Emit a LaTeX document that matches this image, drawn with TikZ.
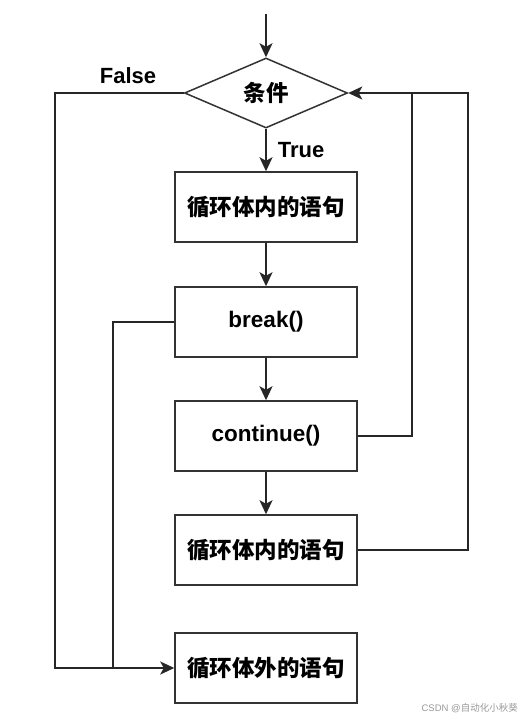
\documentclass[tikz,border=0pt]{standalone}
\usepackage{fontspec}
\setmainfont{Liberation Sans}
\newfontfamily\cjk{Noto Sans CJK SC}
\usetikzlibrary{shapes.geometric,arrows.meta}
\begin{document}
\begin{tikzpicture}[x=1pt,y=-1pt,
  box/.style={draw=black!80,line width=1.5pt,minimum width=182pt,minimum height=70pt,inner sep=0pt,font=\fontsize{22.5}{26}\selectfont\bfseries},
  dec/.style={draw=black!80,line width=1.5pt,diamond,aspect=2.33,minimum width=163pt,minimum height=70pt,inner sep=0pt,font=\fontsize{22.5}{26}\selectfont\bfseries},
  conn/.style={line width=1.7pt,draw=black!85},
  arr/.style={conn,-{Stealth[length=14pt,width=13pt,inset=3.5pt]}},
  lbl/.style={font=\fontsize{22}{26}\selectfont\bfseries,inner sep=0pt}]
\useasboundingbox (0,0) rectangle (522,720);
\fill[white] (0,0) rectangle (522,720);
\coordinate (start) at (266,14);
\node[dec] (cond) at (266,93) {\cjk 条件};
\node[box] (b1) at (266,207) {\cjk 循环体内的语句};
\node[box] (b2) at (266,322) {break()};
\node[box] (b3) at (266,436) {continue()};
\node[box] (b4) at (266,550) {\cjk 循环体内的语句};
\node[box] (b5) at (266,668) {\cjk 循环体外的语句};
\node[lbl] (tl) at (301,150) {True};
\node[lbl] (fl) at (128,76) {False};
\coordinate (fa) at (55,93);
\coordinate (fb) at (55,668);
\coordinate (ba) at (113,322);
\coordinate (bb) at (113,668);
\coordinate (ca) at (412,436);
\coordinate (cb) at (412,93);
\coordinate (da) at (468,550);
\coordinate (db) at (468,93);
\draw[arr] (start) -- (cond.north);
\draw[arr] (cond.south) -- (b1.north);
\draw[arr] (b1.south) -- (b2.north);
\draw[arr] (b2.south) -- (b3.north);
\draw[arr] (b3.south) -- (b4.north);
\draw[arr] (cond.west) -- (fa) -- (fb) -- (b5.west);
\draw[conn] (b2.west) -- (ba) -- (bb);
\draw[conn] (b3.east) -- (ca) -- (cb);
\draw[arr] (b4.east) -- (da) -- (db) -- (cond.east);
\node[font=\fontsize{9.5}{11}\selectfont,text=black!40,anchor=east,inner sep=0pt] (wm) at (518,708) {CSDN @{\cjk 自动化小秋葵}};
\end{tikzpicture}
\end{document}
